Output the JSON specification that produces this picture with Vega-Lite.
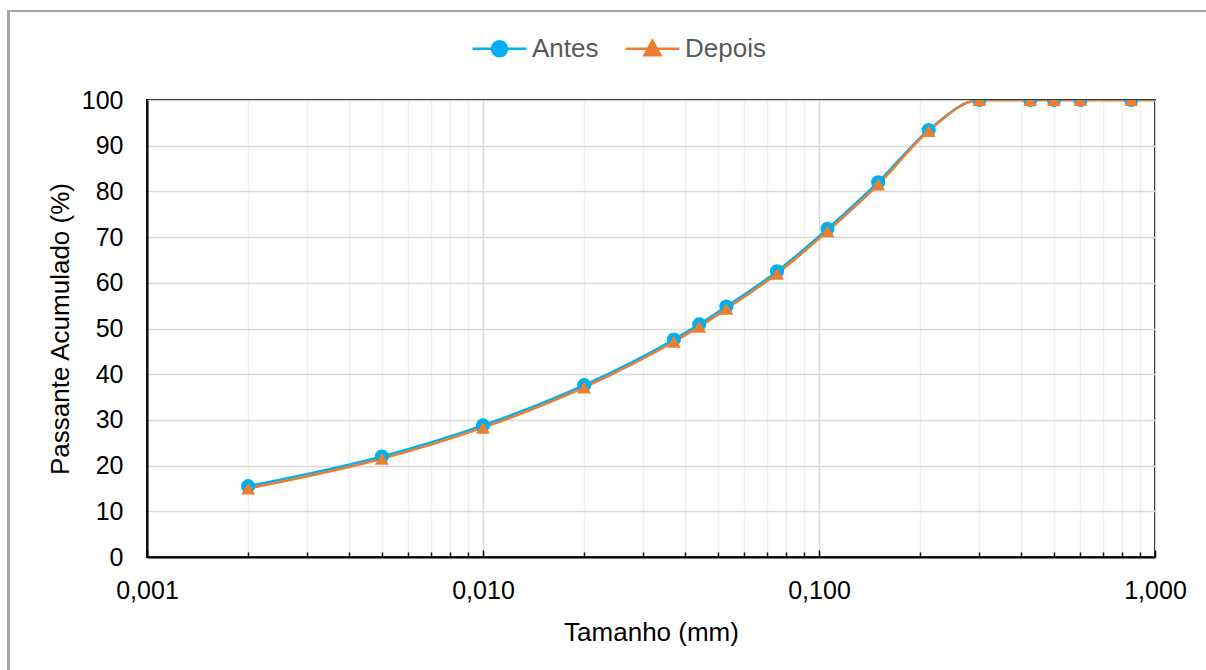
{
  "$schema": "https://vega.github.io/schema/vega-lite/v6.json",
  "width": 1008,
  "height": 457,
  "autosize": {"type": "none"},
  "padding": {"left": 147, "top": 100, "right": 51, "bottom": 113},
  "background": "white",
  "config": {
    "font": "Liberation Sans",
    "view": {"stroke": "#000000", "strokeWidth": 2}
  },
  "data": {
    "values": [
      {"tamanho": 0.002, "passante": 15.5, "serie": "Antes"},
      {"tamanho": 0.005, "passante": 22.0, "serie": "Antes"},
      {"tamanho": 0.010, "passante": 28.8, "serie": "Antes"},
      {"tamanho": 0.020, "passante": 37.6, "serie": "Antes"},
      {"tamanho": 0.037, "passante": 47.6, "serie": "Antes"},
      {"tamanho": 0.044, "passante": 50.9, "serie": "Antes"},
      {"tamanho": 0.053, "passante": 54.8, "serie": "Antes"},
      {"tamanho": 0.075, "passante": 62.5, "serie": "Antes"},
      {"tamanho": 0.106, "passante": 71.8, "serie": "Antes"},
      {"tamanho": 0.150, "passante": 82.0, "serie": "Antes"},
      {"tamanho": 0.212, "passante": 93.4, "serie": "Antes"},
      {"tamanho": 0.300, "passante": 100, "serie": "Antes"},
      {"tamanho": 0.425, "passante": 100, "serie": "Antes"},
      {"tamanho": 0.500, "passante": 100, "serie": "Antes"},
      {"tamanho": 0.600, "passante": 100, "serie": "Antes"},
      {"tamanho": 0.850, "passante": 100, "serie": "Antes"},
      {"tamanho": 1.180, "passante": 100, "serie": "Antes"},
      {"tamanho": 0.002, "passante": 15.0, "serie": "Depois"},
      {"tamanho": 0.005, "passante": 21.5, "serie": "Depois"},
      {"tamanho": 0.010, "passante": 28.3, "serie": "Depois"},
      {"tamanho": 0.020, "passante": 37.1, "serie": "Depois"},
      {"tamanho": 0.037, "passante": 47.1, "serie": "Depois"},
      {"tamanho": 0.044, "passante": 50.4, "serie": "Depois"},
      {"tamanho": 0.053, "passante": 54.3, "serie": "Depois"},
      {"tamanho": 0.075, "passante": 62.0, "serie": "Depois"},
      {"tamanho": 0.106, "passante": 71.3, "serie": "Depois"},
      {"tamanho": 0.150, "passante": 81.5, "serie": "Depois"},
      {"tamanho": 0.212, "passante": 93.2, "serie": "Depois"},
      {"tamanho": 0.300, "passante": 100, "serie": "Depois"},
      {"tamanho": 0.425, "passante": 100, "serie": "Depois"},
      {"tamanho": 0.500, "passante": 100, "serie": "Depois"},
      {"tamanho": 0.600, "passante": 100, "serie": "Depois"},
      {"tamanho": 0.850, "passante": 100, "serie": "Depois"},
      {"tamanho": 1.180, "passante": 100, "serie": "Depois"}
    ]
  },
  "layer": [
    {
      "mark": {"type": "rect", "fill": null, "stroke": "#a6a6a6", "strokeWidth": 2, "clip": false},
      "encoding": {
        "x": {"datum": 0.000386, "type": "quantitative", "scale": {"type": "log", "domain": [0.001, 1]}},
        "x2": {"datum": 1.6},
        "y": {"datum": 119.5, "type": "quantitative"},
        "y2": {"datum": -30}
      }
    },
    {
      "mark": {"type": "line", "interpolate": "monotone", "strokeWidth": 2.5, "clip": true},
      "encoding": {
        "x": {
          "field": "tamanho",
          "type": "quantitative",
          "scale": {"type": "log", "domain": [0.001, 1], "nice": false},
          "axis": {
            "title": "Tamanho (mm)",
            "titleFontSize": 26,
            "titleFontWeight": "normal",
            "titleColor": "#000000",
            "titlePadding": 14,
            "values": [0.001, 0.002, 0.003, 0.004, 0.005, 0.006, 0.007, 0.008, 0.009,
                       0.01, 0.02, 0.03, 0.04, 0.05, 0.06, 0.07, 0.08, 0.09,
                       0.1, 0.2, 0.3, 0.4, 0.5, 0.6, 0.7, 0.8, 0.9, 1],
            "labelExpr": "abs(log(datum.value)/LN10 - round(log(datum.value)/LN10)) < 0.001 ? replace(format(datum.value, '.3f'), '.', ',') : ''",
            "labelFontSize": 25,
            "labelColor": "#000000",
            "labelPadding": 28,
            "labelFlush": false,
            "labelOverlap": false,
            "domainColor": "#000000",
            "domainWidth": 2,
            "tickColor": "#000000",
            "tickWidth": 1.5,
            "tickSize": {"condition": {"test": "abs(log(datum.value)/LN10 - round(log(datum.value)/LN10)) < 0.001", "value": -7}, "value": -5},
            "grid": true,
            "gridColor": {"condition": {"test": "abs(log(datum.value)/LN10 - round(log(datum.value)/LN10)) < 0.001", "value": "#d9d9d9"}, "value": "#efefef"},
            "gridWidth": 1.5
          }
        },
        "y": {
          "field": "passante",
          "type": "quantitative",
          "scale": {"domain": [0, 100], "nice": false},
          "axis": {
            "title": "Passante Acumulado (%)",
            "titleFontSize": 26,
            "titleFontWeight": "normal",
            "titleColor": "#000000",
            "titlePadding": 8,
            "values": [0, 10, 20, 30, 40, 50, 60, 70, 80, 90, 100],
            "labelFontSize": 25,
            "labelColor": "#000000",
            "labelPadding": 24,
            "ticks": false,
            "domainColor": "#000000",
            "domainWidth": 2,
            "grid": true,
            "gridColor": "#d9d9d9",
            "gridWidth": 1.5
          }
        },
        "color": {
          "field": "serie",
          "type": "nominal",
          "scale": {"domain": ["Antes", "Depois"], "range": ["#00B0F0", "#ED7D31"]},
          "legend": {
            "title": null,
            "orient": "none",
            "direction": "horizontal",
            "legendX": 324,
            "legendY": -80,
            "symbolSize": 2916,
            "symbolStrokeWidth": 2.5,
            "labelFontSize": 26,
            "labelColor": "#595959",
            "labelOffset": 4,
            "columnPadding": 21,
            "encode": {
              "symbols": {
                "update": {
                  "shape": {"signal": "datum.value === 'Antes' ? 'M-1,0H1M0.28,0A0.28,0.28 0 1 1 -0.28,0A0.28,0.28 0 1 1 0.28,0Z' : 'M-1,0H1M0,-0.3L0.3,0.24H-0.3Z'"},
                  "fill": {"signal": "datum.value === 'Antes' ? '#00B0F0' : '#ED7D31'"},
                  "stroke": {"signal": "datum.value === 'Antes' ? '#00B0F0' : '#ED7D31'"},
                  "opacity": {"value": 1}
                }
              }
            }
          }
        }
      }
    },
    {
      "transform": [{"filter": "datum.serie === 'Antes'"}],
      "mark": {"type": "point", "shape": "circle", "filled": true, "opacity": 1, "size": 200, "clip": true},
      "encoding": {
        "x": {"field": "tamanho", "type": "quantitative"},
        "y": {"field": "passante", "type": "quantitative"},
        "color": {"field": "serie", "type": "nominal"}
      }
    },
    {
      "transform": [{"filter": "datum.serie === 'Depois'"}],
      "mark": {"type": "point", "shape": "triangle-up", "filled": true, "opacity": 1, "size": 190, "clip": true},
      "encoding": {
        "x": {"field": "tamanho", "type": "quantitative"},
        "y": {"field": "passante", "type": "quantitative"},
        "color": {"field": "serie", "type": "nominal"}
      }
    }
  ]
}
